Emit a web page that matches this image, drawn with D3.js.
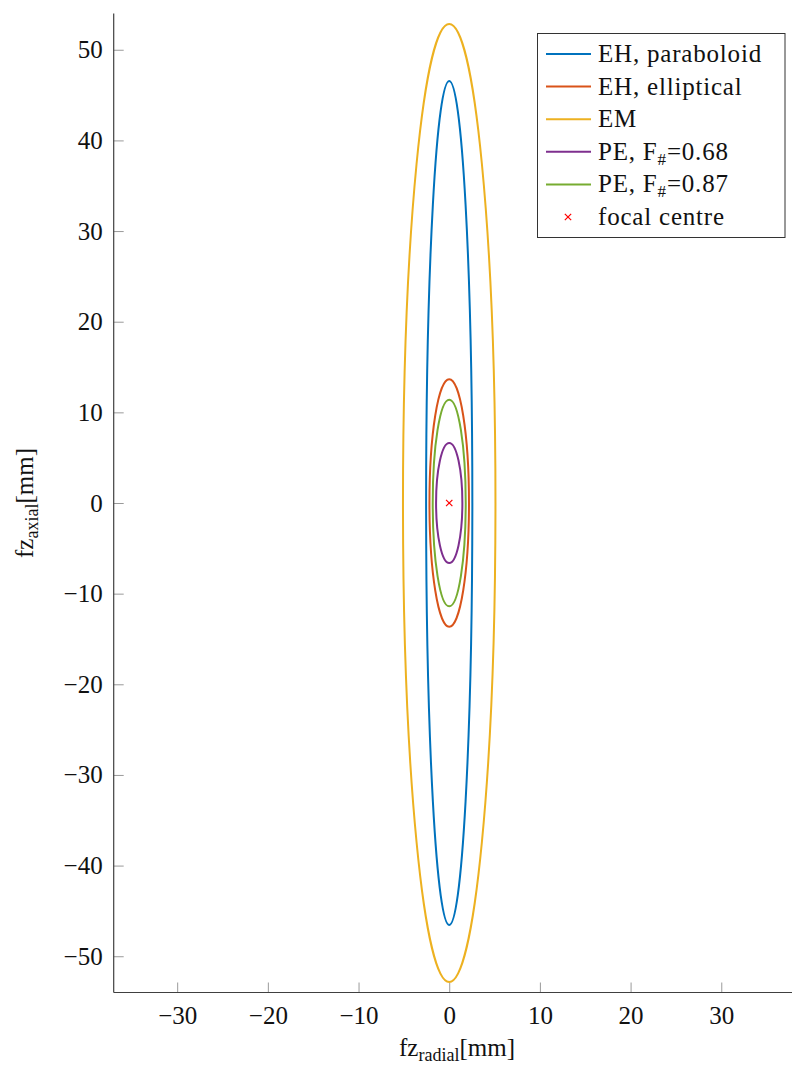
<!DOCTYPE html>
<html>
<head>
<meta charset="utf-8">
<script src="https://cdn.jsdelivr.net/npm/d3@7"></script>
<style>
  html, body { margin: 0; padding: 0; background: #fff; }
  svg { display: block; }
  svg text { font-family: "Liberation Serif", "DejaVu Serif", serif; fill: #111; }
</style>
</head>
<body>
<svg id="chart" width="792" height="1066"></svg>
<script>
// ---- data ----
const seriesNames = ["EH, paraboloid", "EH, elliptical", "EM", "PE, F#=0.68", "PE, F#=0.87"];
const seriesColors = ["#0072BD", "#D95319", "#EDB120", "#7E2F8E", "#77AC30"];
// semi-axes of each focal zone contour (mm)
const radialHalfWidth = [2.55, 2.18, 5.1, 1.45, 1.82];
const axialHalfHeight = [46.55, 13.65, 52.85, 6.62, 11.4];
const focalCentre = [{ x: 0, y: 0 }];
const xTicks = [-30, -20, -10, 0, 10, 20, 30];
const yTicks = [-50, -40, -30, -20, -10, 0, 10, 20, 30, 40, 50];
const xDomain = [-37.0, 37.8];
const yDomain = [-54, 54];

// ---- layout ----
const FONT = '"Liberation Serif", "DejaVu Serif", serif';
const svg = d3.select("#chart");
const plot = { left: 113.7, right: 792, top: 13.5, bottom: 992.5 };
const x = d3.scaleLinear().domain(xDomain).range([plot.left, plot.right]);
const y = d3.scaleLinear().domain(yDomain).range([plot.bottom, plot.top]);
const fmt = v => (v < 0 ? "\u2212" + Math.abs(v) : String(v));

// ticks (inward)
const tickLen = 10;
const gx = svg.append("g").attr("transform", `translate(0,${plot.bottom})`)
  .call(d3.axisBottom(x).tickValues(xTicks).tickSize(-tickLen).tickPadding(14).tickFormat(fmt));
const gy = svg.append("g").attr("transform", `translate(${plot.left},0)`)
  .call(d3.axisLeft(y).tickValues(yTicks).tickSize(-tickLen).tickPadding(11).tickFormat(fmt));
[gx, gy].forEach(g => {
  g.attr("font-family", FONT).attr("font-size", 25);
  g.select(".domain").remove();
  g.selectAll(".tick line").attr("stroke", "#9a9a9a").attr("stroke-width", 1);
  g.selectAll(".tick text").attr("font-size", 25).attr("font-family", FONT).attr("fill", "#111");
});
gx.selectAll(".tick text").attr("dy", "0.71em");

// series (ellipses drawn through scales)
const data = seriesNames.map((n, i) => ({ name: n, color: seriesColors[i], a: radialHalfWidth[i], b: axialHalfHeight[i] }));
svg.append("g").selectAll("ellipse").data(data).join("ellipse")
  .attr("cx", x(0)).attr("cy", y(0))
  .attr("rx", d => x(d.a) - x(0))
  .attr("ry", d => y(0) - y(d.b))
  .attr("fill", "none")
  .attr("stroke", d => d.color)
  .attr("stroke-width", 2);

// focal centre marker
const cross = d3.symbol().type(d3.symbolX).size(28);
svg.append("g").selectAll("path").data(focalCentre).join("path")
  .attr("d", cross)
  .attr("transform", d => `translate(${x(d.x)},${y(d.y)})`)
  .attr("fill", "none").attr("stroke", "#ff0000").attr("stroke-width", 1.2);

// axis lines
svg.append("line").attr("x1", plot.left).attr("x2", plot.right).attr("y1", plot.bottom).attr("y2", plot.bottom)
  .attr("stroke", "#404040").attr("stroke-width", 1.2);
svg.append("line").attr("x1", plot.left).attr("x2", plot.left).attr("y1", plot.top).attr("y2", plot.bottom)
  .attr("stroke", "#404040").attr("stroke-width", 1.2);

// axis labels
const xl = svg.append("text").attr("x", 457).attr("y", 1056).attr("text-anchor", "middle")
  .attr("font-size", 25).attr("font-family", FONT);
xl.append("tspan").text("fz");
xl.append("tspan").attr("dy", 5).attr("font-size", 18).text("radial");
xl.append("tspan").attr("dy", -5).text("[mm]");

const yl = svg.append("text").attr("transform", "translate(33,503) rotate(-90)").attr("text-anchor", "middle")
  .attr("font-size", 25).attr("font-family", FONT);
yl.append("tspan").text("fz");
yl.append("tspan").attr("dy", 5).attr("font-size", 18).text("axial");
yl.append("tspan").attr("dy", -5).text("[mm]");

// legend
const lg = svg.append("g").attr("font-family", FONT);
lg.append("rect").attr("x", 537.5).attr("y", 33.5).attr("width", 247.5).attr("height", 204)
  .attr("fill", "#fff").attr("stroke", "#333").attr("stroke-width", 1);
const rowY = i => 54 + i * 32.6;
data.forEach((d, i) => {
  lg.append("line").attr("x1", 546).attr("x2", 591).attr("y1", rowY(i)).attr("y2", rowY(i))
    .attr("stroke", d.color).attr("stroke-width", 2);
  const t = lg.append("text").attr("x", 598).attr("y", rowY(i) + 8).attr("font-size", 25)
    .attr("font-family", FONT).attr("letter-spacing", 0.8);
  if (d.name.includes("F#")) {
    const parts = d.name.split("F#");
    t.append("tspan").text(parts[0] + "F");
    t.append("tspan").attr("dy", 5).attr("font-size", 17).text("#");
    t.append("tspan").attr("dy", -5).text(parts[1]);
  } else {
    t.text(d.name);
  }
});
const iLast = data.length;
lg.append("path").attr("d", cross).attr("transform", `translate(568,${rowY(iLast)})`)
  .attr("fill", "none").attr("stroke", "#ff0000").attr("stroke-width", 1.2);
lg.append("text").attr("x", 598).attr("y", rowY(iLast) + 8).attr("font-size", 25)
  .attr("font-family", FONT).attr("letter-spacing", 0.8).text("focal centre");
</script>
</body>
</html>
